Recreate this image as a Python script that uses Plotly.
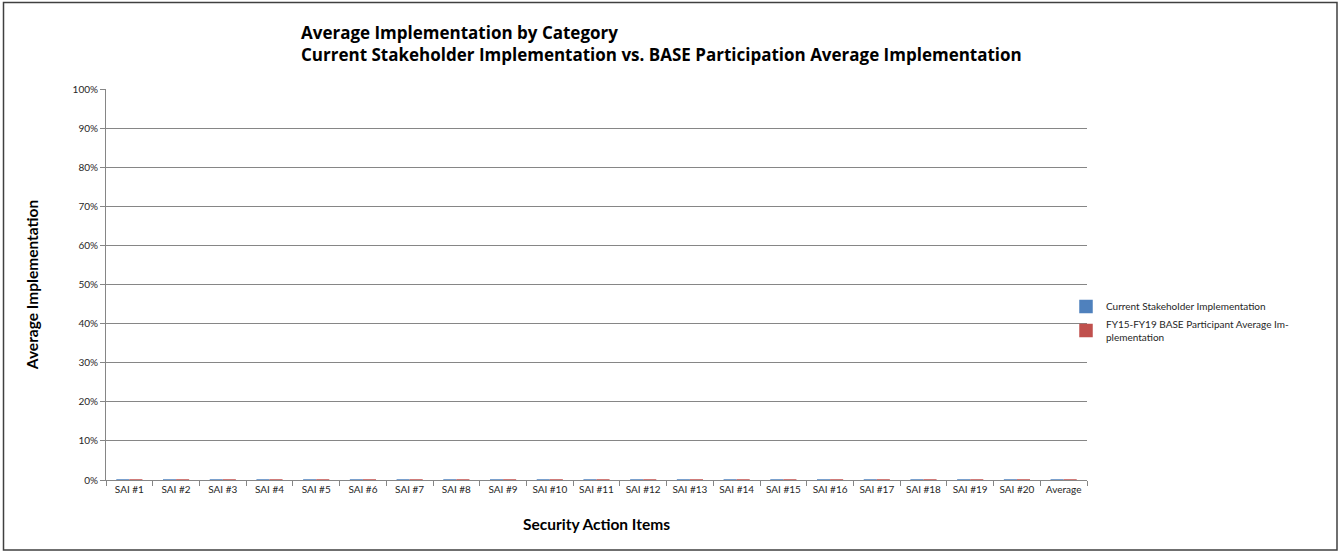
import plotly.graph_objects as go

categories = [f"SAI #{i}" for i in range(1, 21)] + ["Average"]
current_stakeholder = [0] * 21
base_average = [0] * 21

FONT = "Lato, 'Open Sans', sans-serif"

fig = go.Figure()
fig.add_trace(go.Bar(
    x=categories, y=current_stakeholder, name="Current Stakeholder Implementation",
    marker=dict(color="#4F81BD", line=dict(color="#4F81BD", width=1.5)),
))
fig.add_trace(go.Bar(
    x=categories, y=base_average, name="FY15-FY19 BASE Participant Average Im-<br>plementation",
    marker=dict(color="#C0504D", line=dict(color="#C0504D", width=1.5)),
))

L, R, T, B = 106, 253, 89, 72
W, H = 1340, 552
pw, ph = W - L - R, H - T - B

def px(x):
    return (x - L) / pw

def py(y):
    return (H - B - y) / ph

fig.update_layout(
    width=W, height=H,
    margin=dict(l=L, r=R, t=T, b=B),
    paper_bgcolor="white", plot_bgcolor="white",
    barmode="group", bargap=0.44, bargroupgap=0,
    font=dict(family=FONT, color="#404040", size=11),
    showlegend=True,
    legend=dict(x=px(1066), y=py(292), xanchor="left", yanchor="top",
                font=dict(size=10, color="#262626"), itemwidth=30,
                tracegroupgap=10, bgcolor="rgba(0,0,0,0)"),
    xaxis=dict(
        type="category", showgrid=False, showline=True, linecolor="#868686", linewidth=1,
        ticks="outside", tickson="boundaries", ticklen=5, tickcolor="#868686",
        tickfont=dict(size=10, color="#262626"), layer="below traces",
        title=dict(text="<b>Security Action Items</b>", font=dict(size=15.5, color="#000000"), standoff=25),
    ),
    yaxis=dict(
        range=[0, 1], tickformat=".0%", dtick=0.1, showgrid=True, gridcolor="#868686", gridwidth=1,
        showline=True, linecolor="#868686", linewidth=1, ticks="outside", ticklen=5, tickcolor="#868686",
        tickfont=dict(size=10, color="#262626"), zeroline=False, layer="below traces",
        title=dict(text="<b>Average Implementation</b>", font=dict(size=15.5, color="#000000"), standoff=30),
    ),
    shapes=[dict(type="rect", xref="paper", yref="paper",
                 x0=px(3.5), x1=px(1337), y0=py(550), y1=py(2.5),
                 line=dict(color="#404040", width=1.5), fillcolor="rgba(0,0,0,0)", layer="below")],
    annotations=[dict(
        text="<b>Average Implementation by Category<br>Current Stakeholder Implementation vs. BASE Participation Average Implementation</b>",
        xref="paper", yref="paper", x=px(299), y=py(19), xanchor="left", yanchor="top",
        align="left", showarrow=False,
        font=dict(size=17, color="#000000", family="'Open Sans', Lato, sans-serif"),
    )],
)

fig.write_html("out.html", config={"displayModeBar": False},
               post_script="document.body.style.margin='0';document.body.style.padding='0';")
